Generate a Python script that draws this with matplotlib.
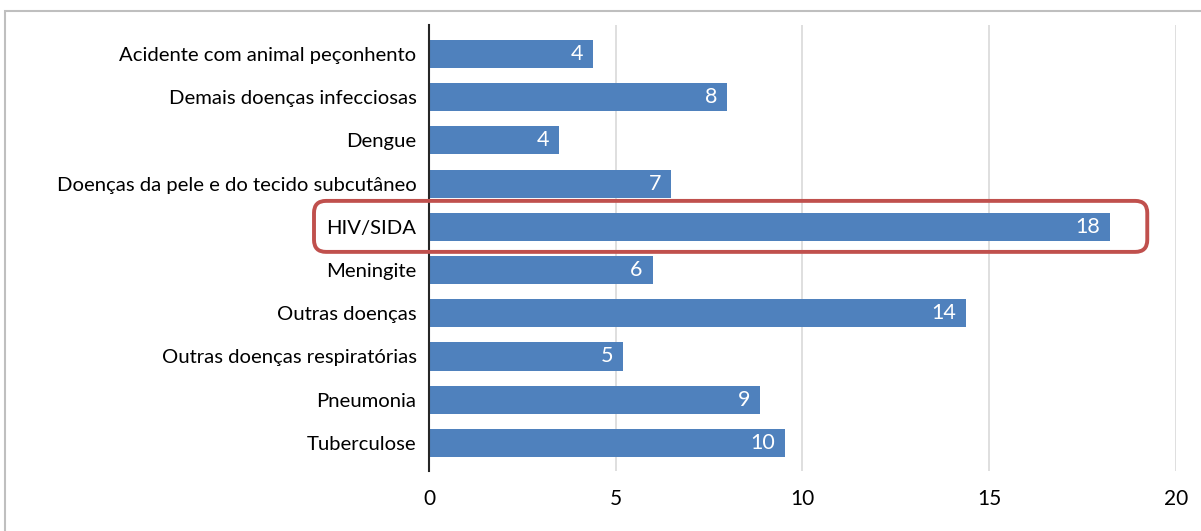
import matplotlib.pyplot as plt
from matplotlib.patches import FancyBboxPatch, Rectangle
from matplotlib.transforms import offset_copy

plt.rcParams['font.family'] = ['Lato', 'DejaVu Sans']

categories = ['Acidente com animal peçonhento', 'Demais doenças infecciosas', 'Dengue',
              'Doenças da pele e do tecido subcutâneo', 'HIV/SIDA', 'Meningite',
              'Outras doenças', 'Outras doenças respiratórias', 'Pneumonia', 'Tuberculose']
values = [4.39, 7.98, 3.48, 6.48, 18.24, 5.99, 14.38, 5.20, 8.86, 9.52]
labels = ['4', '8', '4', '7', '18', '6', '14', '5', '9', '10']
xticks = [0, 5, 10, 15, 20]
highlight = 'HIV/SIDA'

fig = plt.figure(figsize=(12.01, 5.31), dpi=100)
ax = fig.add_axes([429 / 1201, 1 - 471 / 531, (1176 - 429) / 1201, (471 - 25) / 531])

y = list(range(len(categories)))
ax.barh(y, values, height=0.65, color='#4F81BD', zorder=3)
ax.set_yticks(y)
ax.set_yticklabels(categories, fontsize=14.6, color='#000000')
ax.set_ylim(9.65, -0.67)
ax.set_xlim(0, 20)
ax.set_xticks(xticks)
ax.set_xticklabels([str(t) for t in xticks], fontsize=15, color='#000000')
ax.tick_params(axis='y', length=0, pad=9)
ax.tick_params(axis='x', length=0, pad=13)
ax.grid(axis='x', color='#D9D9D9', linewidth=1.2, zorder=0)
for s in ['top', 'right', 'bottom']:
    ax.spines[s].set_visible(False)
ax.spines['left'].set_color('#262626')
ax.spines['left'].set_linewidth(1.5)
ax.spines['left'].set_zorder(4)

for yi, v, lab in zip(y, values, labels):
    tr = offset_copy(ax.transData, fig=fig, x=-10, y=0, units='dots')
    ax.text(v, yi, lab, transform=tr, ha='right', va='center', color='white',
            fontsize=15.5, zorder=5)

# red rounded box around highlighted row
fig.canvas.draw()
hi = categories.index(highlight)
x0, y0 = ax.transData.transform((0, hi + 0.58))
x1, y1 = ax.transData.transform((values[hi], hi - 0.6))
box = FancyBboxPatch((x0 - 115, y0), (x1 + 37) - (x0 - 115), y1 - y0,
                     boxstyle='round,pad=0,rounding_size=12', transform=None,
                     facecolor='none', edgecolor='#C0504D', linewidth=2.8, zorder=6)
fig.patches.append(box)

# outer chart border
fig.patches.append(Rectangle((4.5 / 1201, -0.05), 1.2, 1 - 10.5 / 531 + 0.05,
                             transform=fig.transFigure, facecolor='none',
                             edgecolor='#BFBFBF', linewidth=1.5))

fig.savefig('out.png', dpi=100)
